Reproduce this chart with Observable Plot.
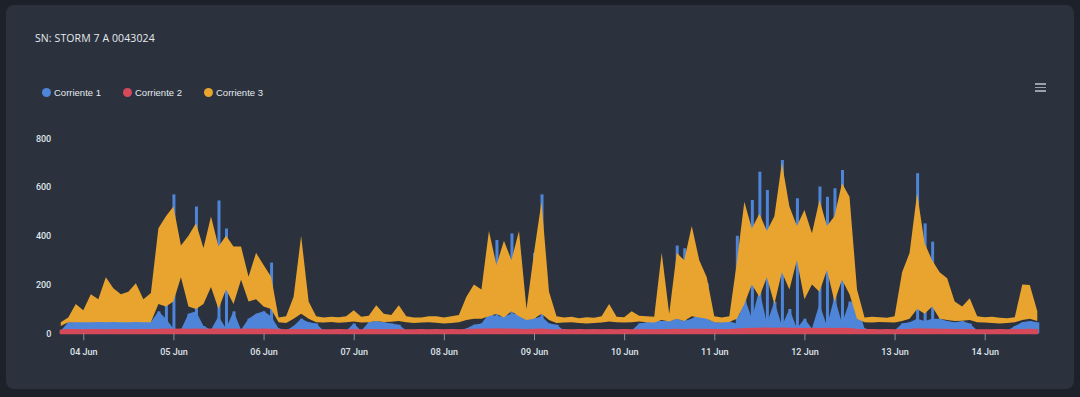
<!DOCTYPE html>
<html>
<head>
<meta charset="utf-8">
<script src="https://cdn.jsdelivr.net/npm/d3@7"></script>
<script src="https://cdn.jsdelivr.net/npm/@observablehq/plot@0.6"></script>
<style>
  html, body { margin: 0; padding: 0; }
  body { width: 1080px; height: 397px; background: #1d212a; position: relative; overflow: hidden; font-family: "Liberation Sans", Arial, sans-serif; }
  #card { position: absolute; left: 6px; top: 5px; width: 1068px; height: 384px; background: #2b323d; border-radius: 8px; }
  #title { position: absolute; left: 35px; top: 31px; font-family: "Open Sans", sans-serif; font-size: 10.5px; color: #e6e9ee; letter-spacing: 0.1px; }
  #legend { position: absolute; left: 42px; top: 87px; display: flex; font-size: 9.5px; color: #e6e9ee; }
  .item { display: flex; align-items: center; margin-right: 22px; }
  .dot { width: 9px; height: 9px; border-radius: 50%; margin-right: 3px; }
  #menu { position: absolute; left: 1035px; top: 83px; width: 11px; }
  #menu div { height: 1.5px; background: #9aa1ab; margin-bottom: 2px; }
  #chart { position: absolute; left: 0; top: 120px; }
</style>
</head>
<body>
<div id="card"></div>
<div id="title"></div>
<div id="legend"></div>
<div id="menu"><div></div><div></div><div></div></div>
<div id="chart"></div>
<script>
// ---- data (2-hour bins from 03 Jun 18:00) ----
const titleText = "SN: STORM 7 A 0043024";
const seriesNames = ["Corriente 1", "Corriente 2", "Corriente 3"];
const seriesColors = ["#4f85d8", "#d5495b", "#e8a42e"];
const startTime = "2024-06-03 18:00";
const stepHours = 2;
const yTicks = [0, 200, 400, 600, 800];
const xTickDays = ["2024-06-04","2024-06-05","2024-06-06","2024-06-07","2024-06-08","2024-06-09","2024-06-10","2024-06-11","2024-06-12","2024-06-13","2024-06-14"];

// Corriente 3 (orange) – upper and lower envelope of each bin
const orangeHi = [
  45,65,120,95,160,140,230,185,160,170,205,140,
  165,431,480,520,360,400,451,350,479,356,400,356,
  356,232,330,280,232,65,70,150,400,130,70,65,
  68,66,70,95,68,72,115,80,75,115,70,65,
  65,70,70,65,70,75,150,200,180,420,280,380,
  300,420,100,330,540,170,70,65,68,62,66,64,
  70,120,68,66,90,72,70,68,330,80,330,300,
  440,300,230,70,65,70,290,540,430,490,420,480,
  700,520,440,506,410,547,440,480,616,560,180,65,
  68,66,64,70,250,330,575,369,300,250,226,130,
  110,144,70,66,68,64,62,66,200,198,90
];
const orangeLo = [
  30,45,45,45,45,46,45,46,45,45,46,45,
  45,120,110,130,230,110,100,120,190,100,180,120,
  220,130,140,110,100,45,42,60,80,60,45,44,
  46,43,45,48,44,45,50,46,47,50,45,42,
  44,45,43,40,42,45,55,60,60,70,80,65,
  90,70,55,60,80,55,42,44,45,42,40,42,
  44,48,45,44,45,48,45,44,55,48,60,50,
  70,65,60,45,44,46,60,120,200,150,230,120,
  250,180,300,140,200,170,260,130,220,160,60,45,
  44,46,45,44,50,60,100,80,110,60,55,50,
  52,55,45,44,42,40,42,45,55,60,50
];
// Corriente 1 (blue) – typical level and bin peak
const blueBase = [
  10,45,46,46,46,47,46,47,46,46,47,46,
  46,90,60,20,15,80,90,30,15,70,20,90,
  15,60,80,90,70,20,12,30,60,45,40,10,
  10,12,10,40,10,45,50,45,40,35,12,10,
  10,12,10,10,12,10,20,35,40,80,70,70,
  80,80,60,60,70,40,35,12,10,10,10,12,
  10,12,10,10,12,40,45,50,50,50,60,50,
  60,80,60,45,45,48,40,150,60,180,40,130,
  30,100,20,60,20,120,30,150,40,130,120,20,
  12,10,10,12,40,45,60,50,60,60,50,45,
  50,40,12,10,10,10,10,30,45,50,45
];
const bluePeak = [
  10,45,46,46,46,47,46,47,46,46,47,46,
  46,90,470,570,15,80,520,30,15,545,430,90,
  15,60,80,90,290,20,12,30,60,45,40,10,
  10,12,10,40,10,45,50,45,40,35,12,10,
  10,12,10,10,12,10,20,35,40,80,383,70,
  410,80,60,330,570,40,35,12,10,10,10,12,
  10,12,10,10,12,40,45,50,50,50,360,349,
  60,80,205,45,45,48,400,150,547,663,588,130,
  711,100,554,60,20,602,560,595,670,130,120,20,
  12,10,10,12,40,45,657,451,376,60,50,45,
  50,40,12,10,10,10,10,30,45,50,45
];
// Corriente 2 (red)
const redHi = [
  12,14,14,13,14,14,13,14,14,13,14,14,
  14,15,16,15,16,15,16,15,16,16,15,16,
  15,16,15,16,15,14,13,14,14,13,14,13,
  13,14,13,14,13,14,14,13,14,14,13,13,
  14,13,14,13,14,13,14,15,16,16,17,16,
  16,15,14,15,16,14,13,14,13,14,13,14,
  13,14,13,14,13,14,14,13,14,14,15,14,
  15,15,15,14,14,14,16,18,19,19,20,19,
  20,19,19,18,19,18,19,18,19,18,15,14,
  14,13,14,13,14,15,17,16,16,15,15,14,
  14,14,13,13,13,14,13,14,14,15,14
];

// ---- header / legend ----
document.getElementById("title").textContent = titleText;
const legend = document.getElementById("legend");
seriesNames.forEach((n, i) => {
  const it = document.createElement("div"); it.className = "item";
  const d = document.createElement("div"); d.className = "dot"; d.style.background = seriesColors[i];
  const s = document.createElement("span"); s.textContent = n;
  it.appendChild(d); it.appendChild(s); legend.appendChild(it);
});

// ---- chart ----
const parse = d3.utcParse("%Y-%m-%d %H:%M");
const t0 = parse(startTime);
const times = orangeHi.map((_, i) => d3.utcHour.offset(t0, stepHours * i));
const rows = times.map((t, i) => ({t, oHi: orangeHi[i], oLo: orangeLo[i], bBase: blueBase[i], bPk: bluePeak[i], r: redHi[i]}));
const tickDates = xTickDays.map(d3.utcParse("%Y-%m-%d"));

const chart = Plot.plot({
  width: 1080,
  height: 245,
  marginLeft: 60.75,
  marginRight: 42.7,
  marginTop: 18.3,
  marginBottom: 31.7,
  style: {background: "transparent", color: "#dfe3ea", fontFamily: "Roboto, 'Liberation Sans', sans-serif", fontSize: "9px", fontWeight: 500},
  x: {type: "utc", domain: [times[0], times[times.length - 1]]},
  y: {domain: [0, 800]},
  marks: [
    Plot.areaY(rows, {x: "t", y: "bBase", fill: seriesColors[0]}),
    Plot.ruleX(rows, {x: "t", y1: 0, y2: "bPk", stroke: seriesColors[0], strokeWidth: 3}),
    Plot.areaY(rows, {x: "t", y1: "oLo", y2: "oHi", fill: seriesColors[2]}),
    Plot.areaY(rows, {x: "t", y: "r", fill: seriesColors[1], stroke: seriesColors[1], strokeWidth: 2}),
    Plot.axisY({ticks: yTicks, tickSize: 0, tickPadding: 10, label: null, fill: "#dfe3ea"}),
    Plot.axisX({ticks: tickDates, tickFormat: d3.utcFormat("%d %b"), tickSize: 7, tickPadding: 8, label: null, stroke: "#8d939c", fill: "#dfe3ea"})
  ]
});
document.getElementById("chart").appendChild(chart);
</script>
</body>
</html>
